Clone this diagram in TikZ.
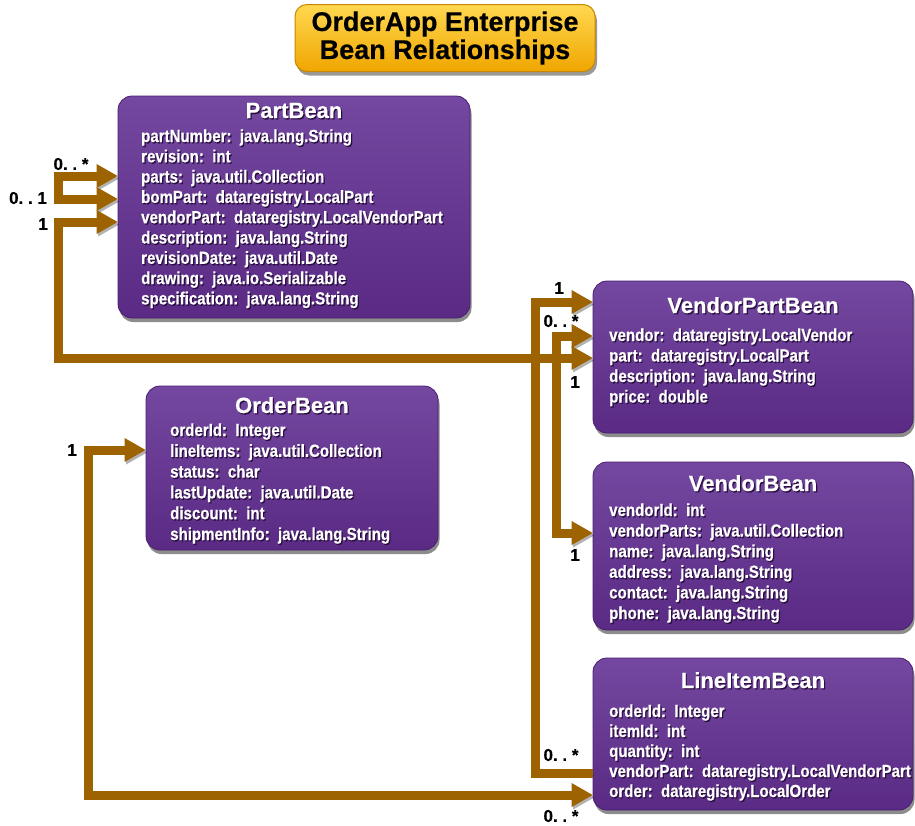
\documentclass[tikz,border=0pt]{standalone}
\usepackage{fontspec}
\setmainfont{Liberation Sans}[BoldFeatures={FakeBold=0.4}]
\newfontfamily\fieldfont{Liberation Sans}[FakeStretch=0.86, BoldFeatures={FakeBold=0.6}]
\usetikzlibrary{arrows.meta,shadows}
\definecolor{conncol}{HTML}{9C6300}
\definecolor{beantop}{HTML}{7448A0}
\definecolor{beanbot}{HTML}{5A2A84}
\definecolor{beanedge}{HTML}{4A1E70}
\definecolor{txtshadow}{HTML}{2A0E42}
\definecolor{goldtop}{HTML}{FFD850}
\definecolor{goldbot}{HTML}{F0A600}
\definecolor{goldedge}{HTML}{C98700}
\newcommand\sh[1]{\makebox[0pt][l]{\kern1.2pt\raisebox{-1.4pt}{\textcolor{txtshadow}{#1}}}#1}
\newcommand\beanfields[5]{%
  \foreach \t [count=\i] in {#5} {
    \node[field] (#1-f\i) at (#2,{#3+#4*(\i-1)}) {\sh{\t}};
  }}
\tikzset{
  bean/.style={rectangle, rounded corners=14pt, draw=beanedge, line width=0.8pt,
    top color=beantop, bottom color=beanbot, inner sep=0pt,
    drop shadow={shadow xshift=1.5pt, shadow yshift=-4pt, opacity=0.45, fill=black}},
  beantitle/.style={anchor=base, inner sep=0pt, text=white,
    font=\bfseries\fontsize{22}{24}\selectfont},
  field/.style={anchor=base west, inner sep=0pt, text=white,
    font=\fieldfont\bfseries\fontsize{17.5}{20}\selectfont},
  mult/.style={inner sep=0pt, text=black, font=\bfseries\fontsize{17}{18}\selectfont},
  conn/.style={draw=conncol, line width=9pt, line join=miter,
    preaction={draw=black, opacity=0.3, transform canvas={shift={(1.5pt,-2.5pt)}}}},
  both/.style={{Triangle[width=24pt,length=21pt,line width=0pt]}-{Triangle[width=24pt,length=21pt,line width=0pt]}},
  first/.style={{Triangle[width=24pt,length=21pt,line width=0pt]}-},
  titlebox/.style={rectangle, rounded corners=12pt, draw=goldedge, line width=1pt,
    top color=goldtop, bottom color=goldbot, align=center, text=black,
    font=\bfseries\fontsize{27}{28}\selectfont,
    drop shadow={shadow xshift=2pt, shadow yshift=-4pt, opacity=0.4, fill=black}}
}
\begin{document}
\begin{tikzpicture}[x=1pt,y=-1pt]
\useasboundingbox (0,0) rectangle (915,825);

% boxes (shapes only, text added after connectors)
\node[bean, minimum width=352pt, minimum height=222pt] (part) at (294,207) {};
\node[bean, minimum width=320pt, minimum height=152pt] (vpart) at (753,357) {};
\node[bean, minimum width=292pt, minimum height=164pt] (order) at (292,468) {};
\node[bean, minimum width=320pt, minimum height=168pt] (vendor) at (753,546) {};
\node[bean, minimum width=320pt, minimum height=152pt] (lineitem) at (753,734) {};

% connectors
\draw[conn, both] (part.west |- 0,176) -- (58,176) -- (58,199) -- (part.west |- 0,199);
\draw[conn, first] (vpart.west |- 0,302) -- (535,302) -- (535,773) -- (lineitem.west |- 0,773);
\draw[conn, both] (vpart.west |- 0,336) -- (556,336) -- (556,533) -- (vendor.west |- 0,533);
\draw[conn, both] (order.west |- 0,450) -- (88,450) -- (88,795) -- (lineitem.west |- 0,795);
\draw[conn, both] (part.west |- 0,222) -- (58,222) -- (58,358) -- (vpart.west |- 0,358);

% title
\node[titlebox, minimum width=300pt, minimum height=67pt] (title) at (445,38)
  {OrderApp Enterprise\\Bean Relationships};

% bean titles
\node[beantitle] (part-t) at (part.center |- 0,118) {\sh{PartBean}};
\node[beantitle] (vpart-t) at (vpart.center |- 0,313) {\sh{VendorPartBean}};
\node[beantitle] (order-t) at (order.center |- 0,413) {\sh{OrderBean}};
\node[beantitle] (vendor-t) at (vendor.center |- 0,491) {\sh{VendorBean}};
\node[beantitle] (lineitem-t) at (lineitem.center |- 0,688) {\sh{LineItemBean}};

% fields
\beanfields{part}{141}{142}{20.3}{partNumber:~~java.lang.String, revision:~~int,
  parts:~~java.util.Collection, bomPart:~~dataregistry.LocalPart,
  vendorPart:~~dataregistry.LocalVendorPart, description:~~java.lang.String,
  revisionDate:~~java.util.Date, drawing:~~java.io.Serializable,
  specification:~~java.lang.String}
\beanfields{vpart}{609}{341}{20.5}{vendor:~~dataregistry.LocalVendor,
  part:~~dataregistry.LocalPart, description:~~java.lang.String, price:~~double}
\beanfields{order}{170}{436}{20.8}{orderId:~~Integer, lineItems:~~java.util.Collection,
  status:~~char, lastUpdate:~~java.util.Date, discount:~~int,
  shipmentInfo:~~java.lang.String}
\beanfields{vendor}{609}{516}{20.6}{vendorId:~~int, vendorParts:~~java.util.Collection,
  name:~~java.lang.String, address:~~java.lang.String, contact:~~java.lang.String,
  phone:~~java.lang.String}
\beanfields{lineitem}{609}{717}{20}{orderId:~~Integer, itemId:~~int, quantity:~~int,
  vendorPart:~~dataregistry.LocalVendorPart, order:~~dataregistry.LocalOrder}

% multiplicities
\node[mult] (m1) at (71,164) {0.\ .\ *};
\node[mult] (m2) at (28,198) {0.\ .\ 1};
\node[mult] (m3) at (43,224) {1};
\node[mult] (m4) at (72,450) {1};
\node[mult] (m5) at (559,288) {1};
\node[mult] (m6) at (561,321) {0.\ .\ *};
\node[mult] (m7) at (575,382) {1};
\node[mult] (m8) at (575,555) {1};
\node[mult] (m9) at (561,755) {0.\ .\ *};
\node[mult] (m10) at (561,816) {0.\ .\ *};
\end{tikzpicture}
\end{document}
